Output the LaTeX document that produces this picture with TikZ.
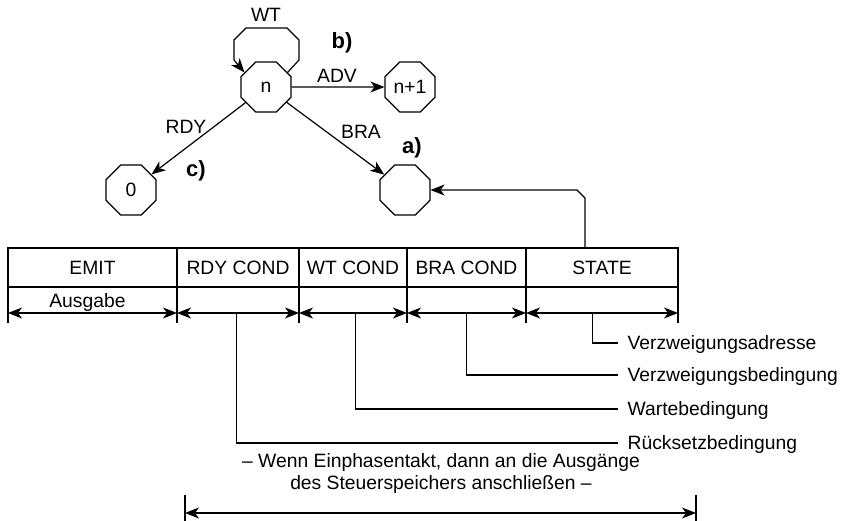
\documentclass[tikz,border=0pt]{standalone}
\usepackage{fontspec}
\setmainfont{Liberation Sans}
\usetikzlibrary{positioning, shapes.geometric, arrows.meta}

\begin{document}
\begin{tikzpicture}[x=1pt, y=-1pt, line width=1.2pt,
    >={Stealth[length=14pt, width=11pt, inset=4pt]},
    font=\fontsize{19.3}{22}\selectfont,
    octa/.style={draw, regular polygon, regular polygon sides=8, minimum size=54pt, inner sep=0pt, line width=1.2pt},
    cell/.style={draw, rectangle, minimum height=39pt, inner sep=0pt, outer sep=0pt},
    caselabel/.style={font=\fontsize{22}{26}\selectfont\bfseries},
    explain/.style={anchor=west, inner xsep=9pt, inner ysep=2pt, text depth=0pt}]
    \useasboundingbox (0,0) rectangle (841,521);

    % state graph
    \node [octa] (n) at (266,87) {n};
    \node [octa] (next) at (410,87) {n+1};
    \node [octa] (zero) at (131,190) {0};
    \node [octa] (target) at (405,190) {};

    \node (wt) at (266,15) {WT};
    \node [caselabel] (b) at (342,43) {b)};
    \node (adv) at (337,76) {ADV};
    \node (rdy) at (186,127) {RDY};
    \node (bra) at (361,132) {BRA};
    \node [caselabel] (a) at (412,148) {a)};
    \node [caselabel] (c) at (196,171) {c)};

    \draw [->] (n) -- (next);
    \draw [->] (n) -- (zero);
    \draw [->] (n) -- (target);
    \draw [->] (n.34) -- (299,60) -- (299,40) -- (287,28) -- (246,28) -- (234,40) -- (234,60) -- (n.146);

    % microinstruction word
    \node [cell, minimum width=169pt] (emit) at (92.5,267.5) {EMIT};
    \node [cell, minimum width=122pt, right=0pt of emit] (rdycond) {RDY COND};
    \node [cell, minimum width=108pt, right=0pt of rdycond] (wtcond) {WT COND};
    \node [cell, minimum width=119pt, right=0pt of wtcond] (bracond) {BRA COND};
    \node [cell, minimum width=152pt, right=0pt of bracond] (statefield) {STATE};
    \draw [line width=2pt] (emit.north west) rectangle (statefield.south east);

    \coordinate (stateout) at (585,248);
    \draw [->] (stateout) -- ++(0,-50) -- ++(-8,-8) -- (target);

    \foreach \c [count=\i from 0] in {emit.south west, rdycond.south west, wtcond.south west, bracond.south west, statefield.south west, statefield.south east} {
        \draw (\c) -- ++(0,36);
        \path (\c) ++(0,26) coordinate (d\i);
    }

    \draw [<->] (d0) -- (d1) node [pos=0.47, above, inner sep=1pt] (ausgabe) {Ausgabe};
    \draw [<->] (d1) -- (d2) coordinate [pos=0.49] (rdymid);
    \draw [<->] (d2) -- (d3) coordinate [pos=0.52] (wtmid);
    \draw [<->] (d3) -- (d4) coordinate [pos=0.5] (bramid);
    \draw [<->] (d4) -- (d5) coordinate [pos=0.44] (statemid);

    \node [explain] (addr) at (618,343) {Verzweigungsadresse};
    \node [explain] (bcond) at (618,375) {Verzweigungsbedingung};
    \node [explain] (wait) at (618,409) {Wartebedingung};
    \node [explain] (reset) at (618,443) {Rücksetzbedingung};

    \draw (statemid) |- (addr.west);
    \draw (bramid) |- (bcond.west);
    \draw (wtmid) |- (wait.west);
    \draw (rdymid) |- (reset.west);

    % single phase clock note
    \node [align=center] (hint) at (441,474) {– Wenn Einphasentakt, dann an die Ausgänge\\des Steuerspeichers anschließen –};
    \coordinate (lo) at (185,513);
    \coordinate (hi) at (696,513);
    \draw (lo) ++(0,-18) -- ++(0,26);
    \draw (hi) ++(0,-18) -- ++(0,26);
    \draw [<->] (lo) -- (hi);
\end{tikzpicture}
\end{document}
